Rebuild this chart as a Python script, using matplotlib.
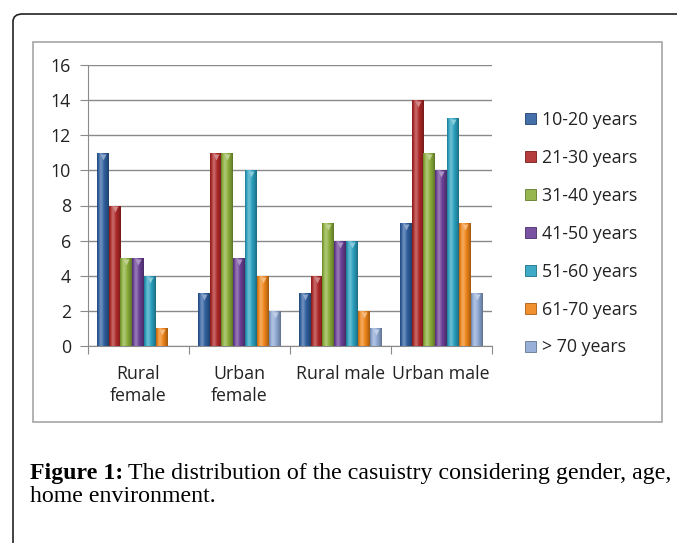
import numpy as np
import matplotlib
matplotlib.use('Agg')
import matplotlib.pyplot as plt
import matplotlib.colors as mcolors
from matplotlib.patches import FancyBboxPatch, Rectangle, Patch
from matplotlib.transforms import offset_copy

# Excel-like font for the chart, serif for the caption
plt.rcParams['font.family'] = ['Open Sans', 'DejaVu Sans']

# data
groups = ['Rural\nfemale', 'Urban\nfemale', 'Rural male', 'Urban male']
age_bands = ['10-20 years', '21-30 years', '31-40 years', '41-50 years',
             '51-60 years', '61-70 years', '> 70 years']
y_10_20 = [11, 3, 3, 7]
y_21_30 = [8, 11, 4, 14]
y_31_40 = [5, 11, 7, 11]
y_41_50 = [5, 5, 6, 10]
y_51_60 = [4, 10, 6, 13]
y_61_70 = [1, 4, 2, 7]
y_over_70 = [0, 2, 1, 3]
series = [y_10_20, y_21_30, y_31_40, y_41_50, y_51_60, y_61_70, y_over_70]

colors = ['#2f5f9e', '#ad2727', '#8bae3a', '#6a4096', '#2aa0be', '#ee8418', '#8ea8d4']

W, H = 677, 543
FS = 12.8


def fx(x):
    return x / W


def fy(y):
    return 1 - y / H


def tone(base, f):
    # f > 0 mixes towards white, f < 0 towards black
    base = np.array(mcolors.to_rgb(base))
    if f >= 0:
        return base + f * (1 - base)
    return base * (1 + f)


def shade_bar(ax, bar, color):
    # cylinder-like horizontal gradient, clipped to the bar
    h = bar.get_height()
    if h <= 0:
        return
    t = np.linspace(0, 1, 64)
    f = 0.32 * np.exp(-((t - 0.33) / 0.2) ** 2) - 0.35 * t ** 4 - 0.3 * (1 - t) ** 8
    img = np.array([[tone(color, v) for v in f]])
    im = ax.imshow(img, extent=(bar.get_x(), bar.get_x() + bar.get_width(),
                                bar.get_y(), bar.get_y() + h),
                   aspect='auto', interpolation='bicubic', zorder=3)
    im.set_clip_path(bar)


fig = plt.figure(figsize=(W / 100, H / 100), dpi=100)

# outer rounded frame (runs off the right and bottom edge)
frame = FancyBboxPatch((fx(13), fy(600)), fx(720), fy(14) - fy(600),
                       boxstyle='round,pad=0,rounding_size=0.014',
                       transform=fig.transFigure, fill=False,
                       edgecolor='#222222', lw=1.2)
fig.patches.append(frame)

# chart area box
fig.patches.append(Rectangle((fx(33), fy(422)), fx(662) - fx(33), fy(42) - fy(422),
                             transform=fig.transFigure, fill=False,
                             edgecolor='#a6a6a6', lw=1.2))

ax = fig.add_axes([fx(87.7), fy(346), fx(491.7) - fx(87.7), fy(65) - fy(346)])

x = np.arange(len(groups))
w = 0.117
n = len(series)
tri = offset_copy(ax.transData, fig=fig, y=-2.8, units='points')
handles = []
for i, (vals, col) in enumerate(zip(series, colors)):
    bars = ax.bar(x + (i - (n - 1) / 2) * w, vals, w, color=col, zorder=2, lw=0)
    for b in bars:
        shade_bar(ax, b, col)
    xs = [b.get_x() + b.get_width() / 2 for b in bars if b.get_height() > 0]
    ys = [b.get_height() for b in bars if b.get_height() > 0]
    ax.plot(xs, ys, 'v', ms=4.5, color=tone(col, 0.45), mec='none',
            transform=tri, zorder=4)
    handles.append(Patch(facecolor=tone(col, 0.1), edgecolor=tone(col, -0.3), lw=0.6))

ax.set_xlim(-0.5, len(groups) - 0.5)
ax.set_ylim(0, 16)
ax.set_yticks(np.arange(0, 17, 2))
ax.yaxis.grid(True, color='#8a8a8a', lw=1)
ax.set_axisbelow(True)

ax.set_xticks(np.arange(len(groups) + 1) - 0.5)
ax.set_xticklabels([])
ax.set_xticks(x, groups, minor=True)
ax.tick_params(axis='x', which='major', length=6, color='#8a8a8a', direction='out')
ax.tick_params(axis='x', which='minor', length=0, pad=14, labelsize=FS,
               labelcolor='#222222')
ax.tick_params(axis='y', length=6, color='#8a8a8a', pad=6, labelsize=FS,
               labelcolor='#222222')
for lab in ax.get_xticklabels(minor=True):
    lab.set_linespacing(1.22)
for s in ['top', 'right']:
    ax.spines[s].set_visible(False)
for s in ['left', 'bottom']:
    ax.spines[s].set_color('#8a8a8a')

fig.legend(handles, age_bands, loc='upper left',
           bbox_to_anchor=(fx(525), fy(111)), frameon=False,
           fontsize=FS, handlelength=0.6, handleheight=0.6,
           handletextpad=0.35, labelspacing=1.12, borderpad=0,
           borderaxespad=0, labelcolor='#222222')

# caption
r = fig.canvas.get_renderer()
cap = fig.text(fx(30), fy(473), 'Figure 1:', family=['Liberation Serif'],
               weight='bold', size=17.2, va='center')
bb = cap.get_window_extent(r)
fig.text(fx(bb.x1 + 5), fy(473),
         'The distribution of the casuistry considering gender, age,',
         family=['Liberation Serif'], size=17.2, va='center')
fig.text(fx(30), fy(497), 'home environment.', family=['Liberation Serif'],
         size=17.2, va='center')

fig.savefig('out.png', dpi=100)
